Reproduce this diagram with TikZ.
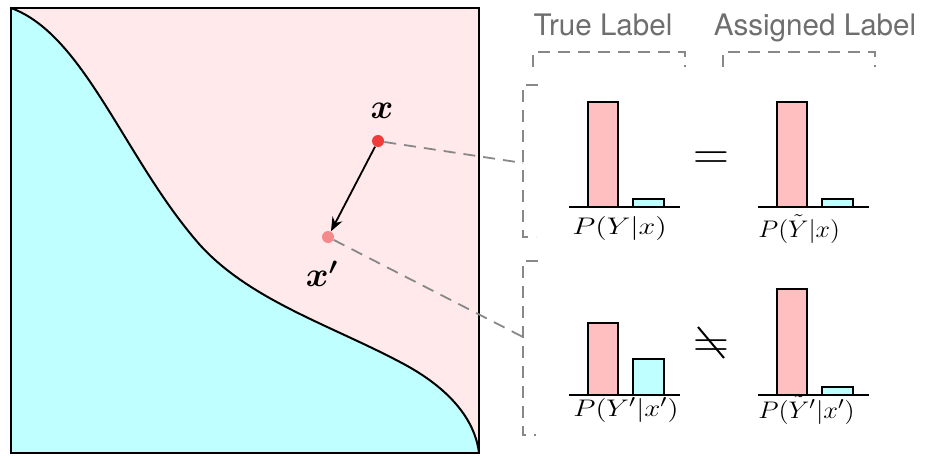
\documentclass[tikz,border=0pt]{standalone}
\usepackage{amsmath}
\usepackage{fontspec}
\newfontfamily\headfont{TeX Gyre Heros}
\usetikzlibrary{arrows.meta}

\definecolor{bgpink}{HTML}{FFE9EA}
\definecolor{bgcyan}{HTML}{BFFFFF}
\definecolor{barpink}{HTML}{FFBFC0}
\definecolor{barcyan}{HTML}{C0FFFF}
\definecolor{ptred}{HTML}{F03B3B}
\definecolor{ptlight}{HTML}{F58A8A}
\definecolor{guidegray}{HTML}{888888}
\definecolor{titlegray}{HTML}{6E6E6E}

\begin{document}
\begin{tikzpicture}[x=0.5pt,y=-0.5pt,
    guide/.style={draw=guidegray, line width=0.9pt, dash pattern=on 6pt off 4pt},
    dot/.style={circle, inner sep=0pt, minimum size=6pt},
    plabel/.style={inner sep=0pt, anchor=base west, font=\fontsize{13}{15}\selectfont},
    title/.style={anchor=base, text=titlegray, font=\headfont\fontsize{14.8}{17}\selectfont},
    bar/.style={draw=black, line width=1pt}]
    \useasboundingbox (0,0) rectangle (925,455);
    \def\border{(11,8) .. controls (85,35) and (125,160) .. (200,245) .. controls (250,300) and (330,325) .. (400,362) .. controls (450,388) and (475,420) .. (479,453)}

    % input space
    \fill[bgpink] (11,8) rectangle (479,453);
    \fill[bgcyan] \border -- (11,453) -- cycle;
    \draw[line width=1pt] \border;
    \draw[line width=1pt] (11,8) rectangle (479,453);

    \node[dot, fill=ptred] (xpt) at (378,141) {};
    \node[dot, fill=ptlight] (xppt) at (328,237) {};
    \node[font=\fontsize{17}{20}\selectfont] (xlab) at (382,111) {$\boldsymbol{x}$};
    \node[font=\fontsize{17}{20}\selectfont] (xplab) at (322,274) {$\boldsymbol{x'}$};
    \draw[-{Stealth[length=7pt,width=5.5pt]}, line width=0.9pt] (xpt) -- (xppt);

    % brackets
    \coordinate (topin) at (523,163);
    \coordinate (botin) at (523,337);
    \draw[guide] (xpt) -- (topin);
    \draw[guide] (xppt) -- (botin);
    \draw[guide] (538,85) -- (523,85) -- (523,237) -- (536,237);
    \draw[guide] (538,261) -- (523,261) -- (523,435) -- (536,435);
    \draw[guide] (533,67) -- (533,52) -- (685,52) -- (685,67);
    \draw[guide] (723,67) -- (723,52) -- (875,52) -- (875,67);
    \node[title] (truelab) at (603,35) {True Label};
    \node[title] (asslab) at (815,35) {Assigned Label};

    % bar charts
    \foreach \bx/\by/\hp/\hc in {569/207/105/8, 758/207/105/8, 569/395/72/36, 758/395/106/8} {
        \draw[bar, fill=barpink] (\bx+19,\by) rectangle (\bx+49,\by-\hp);
        \draw[bar, fill=barcyan] (\bx+64,\by) rectangle (\bx+95,\by-\hc);
        \draw[line width=1pt] (\bx,\by) -- (\bx+111,\by);
    }
    \node[plabel] (pyx) at (572,234) {\scalebox{1.25}[1]{$P(Y|x)$}};
    \node[plabel] (pyt) at (758,237) {\scalebox{1.08}[1]{$P(\tilde{Y}|x)$}};
    \node[plabel] (pyxp) at (573,416) {\scalebox{1.2}[1]{$P(Y'|x')$}};
    \node[plabel] (pytp) at (758,418) {\scalebox{1.1}[1]{$P(\tilde{Y}'|x')$}};

    \node[inner sep=0pt, anchor=base, font=\fontsize{29}{30}\selectfont] (eq) at (711,169) {$=$};
    \node[inner sep=0pt, anchor=base, font=\fontsize{29}{30}\selectfont] (neq) at (711,357) {$=$};
    \draw[line width=1pt] ([shift={(-13,-30)}]neq.base) -- ([shift={(13,1)}]neq.base);
\end{tikzpicture}
\end{document}
